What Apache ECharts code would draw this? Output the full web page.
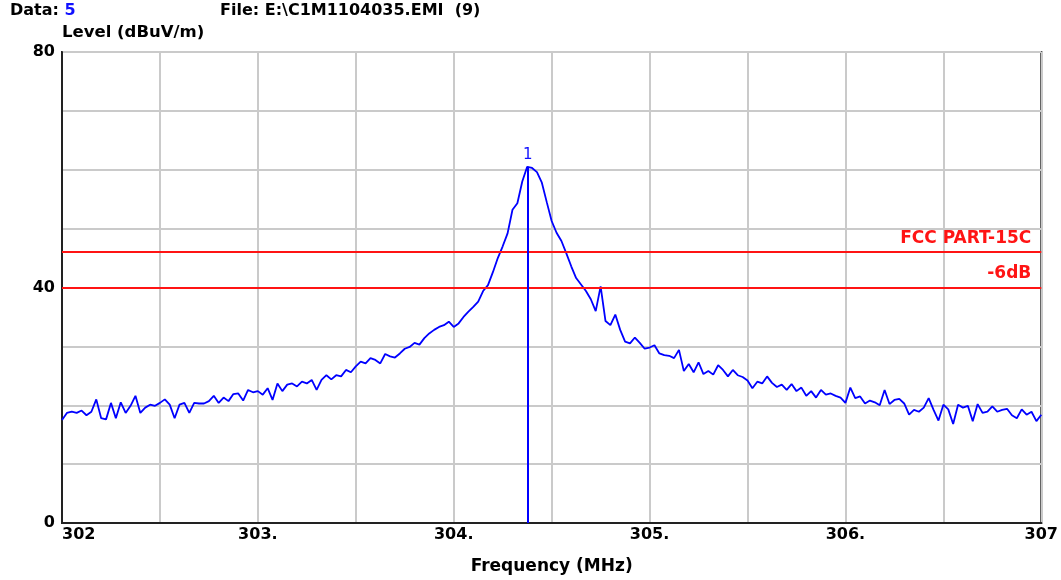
<!DOCTYPE html>
<html>
<head>
<meta charset="utf-8">
<script src="https://cdn.jsdelivr.net/npm/echarts@6/dist/echarts.min.js"></script>
<style>
    html, body { margin: 0; padding: 0; background: #fff; }
    #chart { width: 1061px; height: 580px; }
</style>
</head>
<body>
<div id="chart"></div>
<script>
// sweep: 302 MHz -> 307 MHz, one reading every 25 kHz
const freqStart = 302;
const freqStep = 0.025;
const levels = [
    17.5, 18.7, 18.9, 18.7, 19.1, 18.3, 18.9, 21.0,
    17.8, 17.6, 20.4, 17.8, 20.5, 18.7, 19.9, 21.6,
    18.7, 19.6, 20.1, 19.9, 20.4, 21.0, 20.1, 17.8,
    20.1, 20.4, 18.7, 20.4, 20.3, 20.3, 20.7, 21.6,
    20.4, 21.3, 20.7, 21.9, 22.0, 20.8, 22.6, 22.2,
    22.4, 21.8, 22.9, 20.9, 23.7, 22.4, 23.5, 23.7,
    23.2, 24.0, 23.7, 24.3, 22.6, 24.3, 25.1, 24.4,
    25.1, 24.9, 26.0, 25.6, 26.6, 27.4, 27.1, 28.0,
    27.7, 27.1, 28.7, 28.3, 28.1, 28.8, 29.6, 29.9,
    30.6, 30.3, 31.4, 32.2, 32.8, 33.3, 33.6, 34.2,
    33.3, 33.9, 35.0, 35.9, 36.7, 37.6, 39.4, 40.4,
    42.6, 45.0, 47.0, 49.2, 53.2, 54.3, 58.0, 60.5,
    60.3, 59.6, 57.8, 54.5, 51.3, 49.3, 47.9, 45.8,
    43.6, 41.6, 40.5, 39.4, 38.0, 36.0, 40.2, 34.3,
    33.6, 35.4, 32.8, 30.8, 30.5, 31.5, 30.6, 29.6,
    29.8, 30.2, 28.8, 28.5, 28.4, 28.0, 29.4, 25.8,
    27.0, 25.6, 27.3, 25.3, 25.8, 25.2, 26.8, 26.0,
    24.9, 26.0, 25.1, 24.8, 24.2, 22.9, 24.0, 23.7,
    24.9, 23.8, 23.1, 23.5, 22.6, 23.6, 22.4, 23.0,
    21.6, 22.4, 21.3, 22.6, 21.8, 22.0, 21.6, 21.3,
    20.4, 23.0, 21.2, 21.5, 20.3, 20.8, 20.5, 20.0,
    22.6, 20.2, 20.9, 21.1, 20.3, 18.4, 19.2, 18.9,
    19.6, 21.2, 19.2, 17.4, 20.1, 19.3, 16.8, 20.1,
    19.6, 19.9, 17.3, 20.2, 18.7, 18.9, 19.8, 18.9,
    19.2, 19.4, 18.3, 17.8, 19.3, 18.4, 18.9, 17.3,
    18.4
];

// limit lines
const limitLevels = [46, 40];
const limitNames = ['FCC PART-15C', '-6dB'];

// peak marker
const markerFreq = 304.378;
const markerLevel = 60.5;
const markerName = '1';

// tick labels
const xTickValues = [302, 303, 304, 305, 306, 307];
const xTickTexts = ['302', '303.', '304.', '305.', '306.', '307'];
const yTickValues = [0, 40, 80];

const FONT = 'DejaVu Sans';

const trace = levels.map((v, i) => [+(freqStart + i * freqStep).toFixed(3), v]);

const limitMarks = limitLevels.map((lv, i) => ({
    yAxis: lv,
    lineStyle: { color: '#ff1414', width: 2, type: 'solid' },
    label: {
        show: true,
        formatter: limitNames[i],
        position: 'insideEndTop',
        distance: [10, 5],
        color: '#ff1414',
        fontFamily: FONT,
        fontWeight: 'bold',
        fontSize: 17
    }
}));

const chart = echarts.init(document.getElementById('chart'));
chart.setOption({
    animation: false,
    backgroundColor: '#fff',
    title: [
        {
            left: 10, top: 3, padding: 0,
            text: '{a|Data: }{b|5}',
            textStyle: {
                rich: {
                    a: { fontFamily: FONT, fontWeight: 'bold', fontSize: 16, color: '#000' },
                    b: { fontFamily: FONT, fontWeight: 'bold', fontSize: 16, color: '#1010ff' }
                }
            }
        },
        {
            left: 220, top: 3, padding: 0,
            text: 'File: E:\\C1M1104035.EMI  (9)',
            textStyle: { fontFamily: FONT, fontWeight: 'bold', fontSize: 16, color: '#000' }
        },
        {
            left: 62, top: 24, padding: 0,
            text: 'Level (dBuV/m)',
            textStyle: { fontFamily: FONT, fontWeight: 'bold', fontSize: 16.5, color: '#000' }
        }
    ],
    grid: {
        left: 62, right: 19, top: 52, bottom: 57,
        show: true,
        borderColor: '#222',
        borderWidth: 2,
        backgroundColor: '#fff'
    },
    xAxis: {
        type: 'value',
        min: 302,
        max: 307,
        interval: 0.5,
        name: 'Frequency (MHz)',
        nameLocation: 'middle',
        nameGap: 35,
        nameTextStyle: { fontFamily: FONT, fontWeight: 'bold', fontSize: 17, color: '#000' },
        axisLine: { show: true, lineStyle: { color: '#222', width: 2 } },
        axisTick: { show: false },
        axisLabel: {
            margin: 4,
            fontFamily: FONT,
            fontWeight: 'bold',
            fontSize: 16,
            color: '#000',
            alignMinLabel: 'left',
            formatter: v => {
                const k = xTickValues.findIndex(t => Math.abs(t - v) < 1e-6);
                return k >= 0 ? xTickTexts[k] : '';
            }
        },
        splitLine: { show: true, lineStyle: { color: '#cacaca', width: 2 } }
    },
    yAxis: {
        type: 'value',
        min: 0,
        max: 80,
        interval: 10,
        axisLine: { show: true, lineStyle: { color: '#222', width: 2 } },
        axisTick: { show: false },
        axisLabel: {
            margin: 7,
            fontFamily: FONT,
            fontWeight: 'bold',
            fontSize: 16,
            color: '#000',
            formatter: v => (yTickValues.indexOf(v) >= 0 ? String(v) : '')
        },
        splitLine: { show: true, lineStyle: { color: '#cacaca', width: 2 } }
    },
    series: [
        {
            type: 'line',
            data: trace,
            showSymbol: false,
            silent: true,
            lineStyle: { color: '#0000ff', width: 1.8 },
            markLine: {
                silent: true,
                symbol: ['none', 'none'],
                data: limitMarks
            }
        },
        {
            type: 'line',
            data: [],
            silent: true,
            markLine: {
                silent: true,
                symbol: ['none', 'none'],
                lineStyle: { color: '#0000ff', width: 2, type: 'solid' },
                label: {
                    show: true,
                    position: 'end',
                    distance: 4,
                    formatter: markerName,
                    color: '#1010ff',
                    fontFamily: FONT,
                    fontSize: 15
                },
                data: [
                    [{ coord: [markerFreq, 0] }, { coord: [markerFreq, markerLevel] }]
                ]
            }
        }
    ]
});
</script>
</body>
</html>
